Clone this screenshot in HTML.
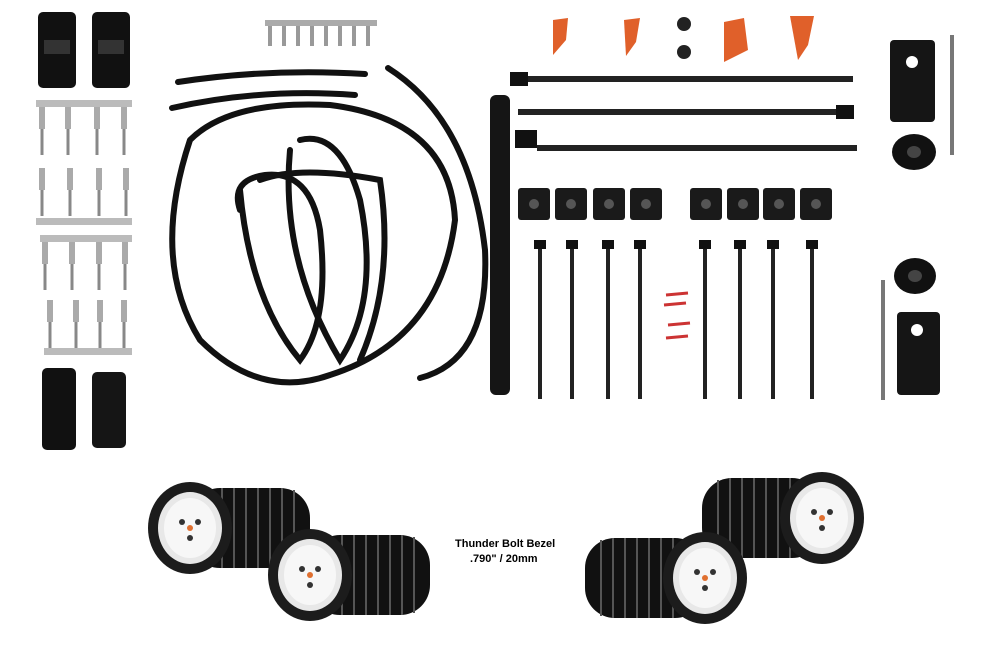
<!DOCTYPE html>
<html><head><meta charset="utf-8"><style>
html,body{margin:0;padding:0;background:#fff;width:990px;height:650px;overflow:hidden}
svg{display:block}
</style></head><body>
<svg width="990" height="650" viewBox="0 0 990 650" xmlns="http://www.w3.org/2000/svg">
<defs>
<g id="pin"><rect x="-3" y="0" width="6" height="22" fill="#aaa"/><rect x="-1.5" y="22" width="3" height="26" fill="#888"/></g>
<g id="vtie"><rect x="-6" y="0" width="12" height="9" fill="#111"/><rect x="-2" y="9" width="4" height="150" fill="#222"/></g>
<g id="sq"><rect x="0" y="0" width="32" height="32" rx="3" fill="#1a1a1a"/><circle cx="16" cy="16" r="5" fill="#555"/></g>
<g id="light">
<rect x="0" y="-40" width="120" height="80" rx="30" fill="#111"/>
<g stroke="#555" stroke-width="2">
<line x1="20" y1="-40" x2="20" y2="40"/><line x1="32" y1="-40" x2="32" y2="40"/><line x1="44" y1="-40" x2="44" y2="40"/><line x1="56" y1="-40" x2="56" y2="40"/><line x1="68" y1="-40" x2="68" y2="40"/><line x1="80" y1="-40" x2="80" y2="40"/><line x1="92" y1="-40" x2="92" y2="40"/><line x1="104" y1="-38" x2="104" y2="38"/>
</g>
<ellipse cx="0" cy="0" rx="42" ry="46" fill="#1c1c1c"/>
<ellipse cx="0" cy="0" rx="32" ry="36" fill="#e8e8e8"/>
<ellipse cx="0" cy="0" rx="26" ry="30" fill="#f7f7f7"/>
<circle cx="0" cy="0" r="3" fill="#e07030"/><circle cx="-8" cy="-6" r="3" fill="#333"/><circle cx="8" cy="-6" r="3" fill="#333"/><circle cx="0" cy="10" r="3" fill="#333"/>
</g>
</defs>
<!-- top-left connectors -->
<rect x="38" y="12" width="38" height="76" rx="5" fill="#111"/><rect x="92" y="12" width="38" height="76" rx="5" fill="#111"/>
<rect x="44" y="40" width="26" height="14" fill="#333"/><rect x="98" y="40" width="26" height="14" fill="#333"/>
<!-- terminal strips -->
<rect x="36" y="100" width="96" height="7" fill="#bbb"/>
<use href="#pin" x="42" y="107"/><use href="#pin" x="68" y="107"/><use href="#pin" x="97" y="107"/><use href="#pin" x="124" y="107"/>
<use href="#pin" x="42" y="168"/><use href="#pin" x="70" y="168"/><use href="#pin" x="99" y="168"/><use href="#pin" x="126" y="168"/>
<rect x="36" y="218" width="96" height="7" fill="#bbb"/>
<rect x="40" y="235" width="92" height="7" fill="#bbb"/>
<use href="#pin" x="45" y="242"/><use href="#pin" x="72" y="242"/><use href="#pin" x="99" y="242"/><use href="#pin" x="125" y="242"/>
<use href="#pin" x="50" y="300"/><use href="#pin" x="76" y="300"/><use href="#pin" x="100" y="300"/><use href="#pin" x="124" y="300"/>
<rect x="44" y="348" width="88" height="7" fill="#bbb"/>
<!-- bottom-left connectors -->
<rect x="42" y="368" width="34" height="82" rx="5" fill="#111"/><rect x="92" y="372" width="34" height="76" rx="5" fill="#151515"/>
<!-- small pin strip -->
<rect x="265" y="20" width="112" height="6" fill="#aaa"/>
<g fill="#999"><rect x="268" y="26" width="4" height="20"/><rect x="282" y="26" width="4" height="20"/><rect x="296" y="26" width="4" height="20"/><rect x="310" y="26" width="4" height="20"/><rect x="324" y="26" width="4" height="20"/><rect x="338" y="26" width="4" height="20"/><rect x="352" y="26" width="4" height="20"/><rect x="366" y="26" width="4" height="20"/></g>
<!-- tubes -->
<g fill="none" stroke="#111" stroke-width="6" stroke-linecap="round">
<path d="M178 82 Q270 68 365 74"/><path d="M172 108 Q260 88 355 95"/>
<path d="M388 68 Q470 120 485 250 Q490 360 420 378"/>
<path d="M190 140 Q150 260 200 340 Q260 400 330 375 Q440 340 455 220 Q450 120 330 105 Q230 100 190 140"/>
<path d="M240 190 Q250 300 300 360 Q330 320 320 230 Q310 170 265 175 Q230 180 240 210"/>
<path d="M290 150 Q280 260 340 360 Q380 300 360 200 Q340 130 300 140"/>
<path d="M260 180 Q300 165 380 180 Q395 280 360 360"/>
</g>
<rect x="490" y="95" width="20" height="300" rx="6" fill="#151515"/>
<!-- orange parts -->
<g fill="#e0602a"><path d="M553 20 L568 18 L566 40 L553 55 Z"/><path d="M624 20 L640 18 L636 42 L626 56 Z"/><path d="M724 22 L744 18 L748 50 L724 62 Z"/><path d="M790 16 L814 16 L808 45 L798 60 Z"/></g>
<circle cx="684" cy="24" r="7" fill="#222"/><circle cx="684" cy="52" r="7" fill="#222"/>
<!-- horizontal zip ties -->
<rect x="510" y="72" width="18" height="14" fill="#111"/><rect x="528" y="76" width="325" height="6" fill="#222"/>
<rect x="518" y="109" width="318" height="6" fill="#222"/><rect x="836" y="105" width="18" height="14" fill="#111"/>
<rect x="515" y="130" width="22" height="18" fill="#111"/><rect x="537" y="145" width="320" height="6" fill="#222"/>
<!-- squares -->
<use href="#sq" x="518" y="188"/><use href="#sq" x="555" y="188"/><use href="#sq" x="593" y="188"/><use href="#sq" x="630" y="188"/>
<use href="#sq" x="690" y="188"/><use href="#sq" x="727" y="188"/><use href="#sq" x="763" y="188"/><use href="#sq" x="800" y="188"/>
<!-- vertical ties -->
<use href="#vtie" x="540" y="240"/><use href="#vtie" x="572" y="240"/><use href="#vtie" x="608" y="240"/><use href="#vtie" x="640" y="240"/>
<use href="#vtie" x="705" y="240"/><use href="#vtie" x="740" y="240"/><use href="#vtie" x="773" y="240"/><use href="#vtie" x="812" y="240"/>
<g stroke="#c33" stroke-width="3"><line x1="666" y1="295" x2="688" y2="293"/><line x1="664" y1="305" x2="686" y2="303"/><line x1="668" y1="325" x2="690" y2="323"/><line x1="666" y1="338" x2="688" y2="336"/></g>
<!-- right items -->
<rect x="890" y="40" width="45" height="82" rx="4" fill="#151515"/><circle cx="912" cy="62" r="6" fill="#fff"/>
<rect x="950" y="35" width="4" height="120" fill="#777"/>
<ellipse cx="914" cy="152" rx="22" ry="18" fill="#111"/><ellipse cx="914" cy="152" rx="7" ry="6" fill="#444"/>
<ellipse cx="915" cy="276" rx="21" ry="18" fill="#111"/><ellipse cx="915" cy="276" rx="7" ry="6" fill="#444"/>
<rect x="881" y="280" width="4" height="120" fill="#777"/>
<rect x="897" y="312" width="43" height="83" rx="4" fill="#151515"/><circle cx="917" cy="330" r="6" fill="#fff"/>
<!-- lights -->
<use href="#light" x="190" y="528"/>
<use href="#light" x="310" y="575"/>
<g transform="translate(822 518) scale(-1 1)"><use href="#light"/></g>
<g transform="translate(705 578) scale(-1 1)"><use href="#light"/></g>
<text x="455" y="547" font-family="Liberation Sans, sans-serif" font-size="11" font-weight="bold" fill="#000">Thunder Bolt Bezel</text>
<text x="470" y="562" font-family="Liberation Sans, sans-serif" font-size="11" font-weight="bold" fill="#000">.790" / 20mm</text>
</svg>
</body></html>
